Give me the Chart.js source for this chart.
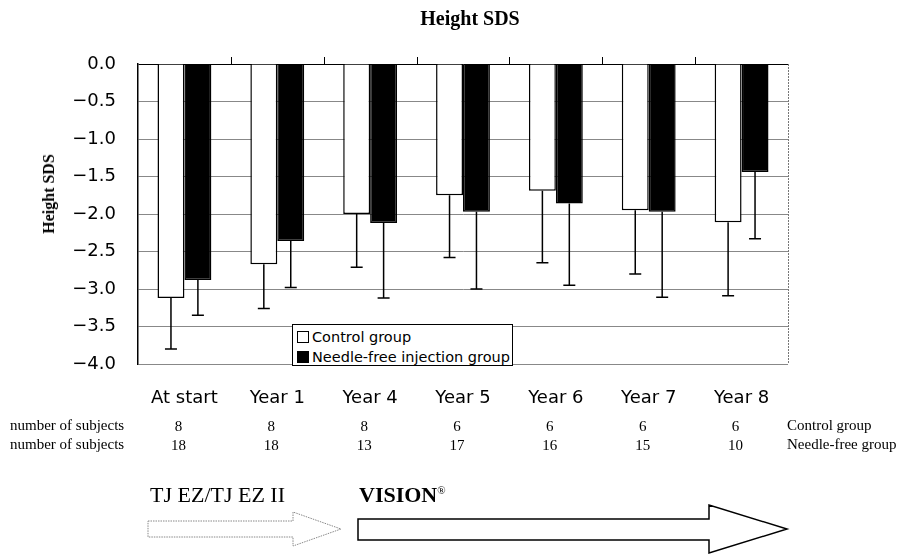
<!DOCTYPE html>
<html>
<head>
<meta charset="utf-8">
<script src="https://cdn.jsdelivr.net/npm/chart.js@4.4.1/dist/chart.umd.min.js"></script>
<style>
  html, body { margin: 0; padding: 0; background: #fff; }
  #wrap { position: relative; width: 917px; height: 554px; overflow: hidden; }
  #c { position: absolute; left: 0; top: 0; }
  .t { position: absolute; white-space: nowrap; color: #000; line-height: 1; }
  .serif { font-family: "Liberation Serif", "Times New Roman", serif; }
  #legend { position: absolute; left: 292px; top: 324px; width: 221px; height: 42px; border: 1px solid #000;
            background: #fff; font: 14.5px "DejaVu Sans", sans-serif; padding: 2px 0 0 4px; box-sizing: border-box; }
  #legend div { height: 20px; line-height: 20px; }
  #legend span.sw { display: inline-block; width: 10px; height: 10px; border: 1.5px solid #000; margin-right: 3px; vertical-align: -1px; }
  svg { position: absolute; left: 0; top: 0; }
</style>
</head>
<body>
<div id="wrap">
  <canvas id="c" width="917" height="554"></canvas>
  <div class="t serif" style="left:470px; top:8px; font-size:20px; font-weight:bold; transform:translateX(-50%);">Height SDS</div>
  <div class="t serif" style="left:49px; top:194px; font-size:16px; font-weight:bold; transform:translate(-50%,-50%) rotate(-90deg);">Height SDS</div>
  <div id="legend">
    <div><span class="sw" style="background:#fff"></span>Control group</div>
    <div><span class="sw" style="background:#000"></span>Needle-free injection group</div>
  </div>
  <div class="t serif" style="left:10px; top:418px; font-size:15px;">number of subjects</div>
  <div class="t serif" style="left:10px; top:437px; font-size:15px;">number of subjects</div>
  <div class="t serif" style="left:787px; top:418px; font-size:15px;">Control group</div>
  <div class="t serif" style="left:787px; top:437px; font-size:15px;">Needle-free group</div>
  <svg width="917" height="554">
    <polygon points="148,521 293,521 293,512 341,529 293,546 293,537 148,537" fill="none" stroke="#888" stroke-width="1" stroke-dasharray="1.5 1"/>
    <polygon points="358,519 709,519 709,505 787,529 709,553 709,540 358,540" fill="#fff" stroke="#000" stroke-width="1.5"/>
  </svg>
  <div class="t serif" style="left:150px; top:484px; font-size:22px;">TJ EZ/TJ EZ II</div>
  <div class="t serif" style="left:359px; top:484px; font-size:22px; font-weight:bold;">VISION<sup style="font-size:11px; font-weight:normal;">®</sup></div>
</div>
<script>
const categories = ['At start', 'Year 1', 'Year 4', 'Year 5', 'Year 6', 'Year 7', 'Year 8'];
const controlMean = [-3.12, -2.67, -2.00, -1.75, -1.69, -1.95, -2.11];
const controlSD = [0.68, 0.59, 0.71, 0.83, 0.96, 0.85, 0.98];
const needleMean = [-2.88, -2.36, -2.12, -1.97, -1.86, -1.97, -1.44];
const needleSD = [0.47, 0.62, 1.00, 1.03, 1.09, 1.14, 0.89];
const nControl = [8, 8, 8, 6, 6, 6, 6];
const nNeedle = [18, 18, 13, 17, 16, 15, 10];
const yTicks = [0, -0.5, -1, -1.5, -2, -2.5, -3, -3.5, -4];

// error bars (downward only), top category ticks, border, subject counts
const extras = {
  id: 'extras',
  afterDatasetsDraw(chart) {
    const ctx = chart.ctx
    const y = chart.scales.y
    const x = chart.scales.x
    const area = chart.chartArea
    const sds = [controlSD, needleSD]
    ctx.save()
    ctx.strokeStyle = '#000'
    ctx.lineWidth = 1.5
    chart.data.datasets.forEach((ds, i) => {
      chart.getDatasetMeta(i).data.forEach((bar, j) => {
        const yEnd = y.getPixelForValue(ds.data[j] - sds[i][j])
        ctx.beginPath()
        ctx.moveTo(bar.x, bar.y)
        ctx.lineTo(bar.x, yEnd)
        ctx.moveTo(bar.x - 6, yEnd)
        ctx.lineTo(bar.x + 6, yEnd)
        ctx.stroke()
      })
    })
    // small category ticks above the zero line
    ctx.lineWidth = 1
    for (let i = 0; i < categories.length - 1; i++) {
      const bx = Math.round((x.getPixelForValue(i) + x.getPixelForValue(i + 1)) / 2) + 0.5
      ctx.beginPath()
      ctx.moveTo(bx, area.top)
      ctx.lineTo(bx, area.top - 7)
      ctx.stroke()
    }
    // right border, dotted
    ctx.strokeStyle = '#777'
    ctx.setLineDash([2, 1])
    ctx.beginPath()
    ctx.moveTo(area.right + 0.5, area.top)
    ctx.lineTo(area.right + 0.5, area.bottom)
    ctx.stroke()
    ctx.setLineDash([])
    // subject counts
    ctx.fillStyle = '#000'
    ctx.font = '15px "Liberation Serif", serif'
    ctx.textAlign = 'center'
    ctx.textBaseline = 'alphabetic'
    categories.forEach((c, i) => {
      const cx = x.getPixelForValue(i) - 6
      ctx.fillText(String(nControl[i]), cx, 431)
      ctx.fillText(String(nNeedle[i]), cx, 450)
    })
    ctx.restore()
  }
}

const ctx = document.getElementById('c')
new Chart(ctx, {
  type: 'bar',
  data: {
    labels: categories,
    datasets: [
      {
        label: 'Control group',
        data: controlMean,
        backgroundColor: '#fff',
        borderColor: '#000',
        borderWidth: 1.5,
      },
      {
        label: 'Needle-free injection group',
        data: needleMean,
        backgroundColor: '#000',
        borderColor: '#000',
        borderWidth: 1.5,
      },
    ],
  },
  options: {
    responsive: false,
    animation: false,
    categoryPercentage: 0.58,
    barPercentage: 1.0,
    layout: { padding: { top: 64, right: 129, bottom: 130, left: 0 } },
    plugins: {
      legend: { display: false },
      tooltip: { enabled: false },
    },
    scales: {
      x: {
        grid: { display: false },
        border: { display: false },
        ticks: { color: '#000', font: { family: 'DejaVu Sans', size: 18 }, padding: 16 },
        afterFit: (s) => { s.height = 60 },
      },
      y: {
        min: -4,
        max: 0,
        afterBuildTicks: (s) => { s.ticks = yTicks.map(v => ({ value: v })) },
        ticks: {
          color: '#000',
          font: { family: 'DejaVu Sans', size: 18 },
          padding: 22,
          callback: (v) => v === 0 ? '0.0' : '\u2212' + Math.abs(v).toFixed(1),
        },
        grid: {
          drawTicks: false,
          color: (c) => c.tick && c.tick.value === 0 ? '#000' : '#888',
        },
        border: { display: true, color: '#000', width: 1.5 },
        afterFit: (s) => { s.width = 138 },
      },
    },
  },
  plugins: [extras],
})
</script>
</body>
</html>
